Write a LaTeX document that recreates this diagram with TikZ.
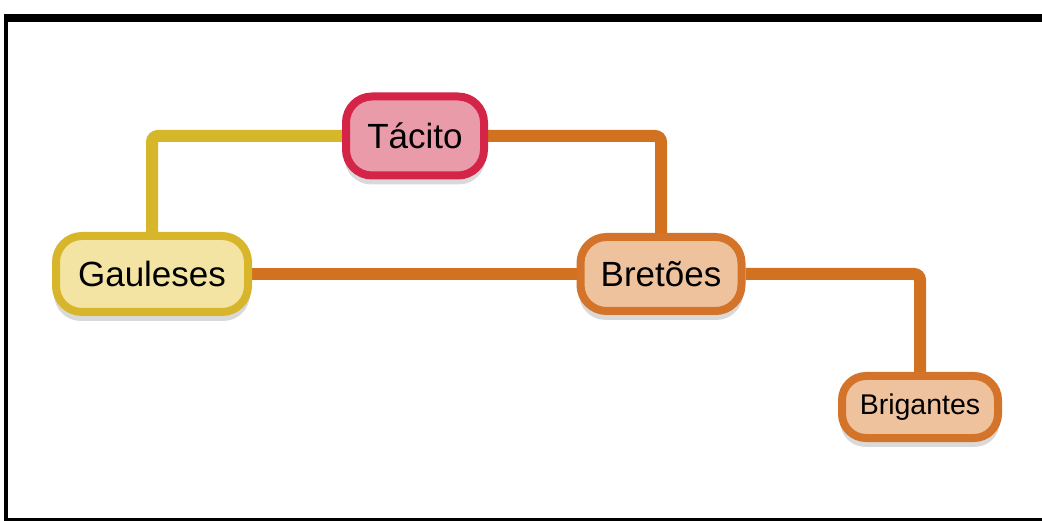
\documentclass[tikz,border=0pt]{standalone}
\usepackage{fontspec}
\setmainfont{Liberation Sans}
\usetikzlibrary{shadows,backgrounds}
\definecolor{tacitoline}{HTML}{D42447}
\definecolor{tacitofill}{HTML}{E99BA9}
\definecolor{gaulline}{HTML}{D8B62C}
\definecolor{gaulfill}{HTML}{F3E4A3}
\definecolor{bretline}{HTML}{D4742A}
\definecolor{bretfill}{HTML}{EFC29E}
\definecolor{linkorange}{HTML}{D2711F}
\definecolor{linkyellow}{HTML}{D6B72A}
\tikzset{
  topic/.style={draw, line width=8pt, rounded corners=26pt, inner sep=0pt,
    font=\fontsize{35}{40}\selectfont,
    drop shadow={shadow xshift=0pt, shadow yshift=-8pt, shadow scale=1.02, opacity=0.15, fill=black}},
  link/.style={line width=12pt, rounded corners=6pt},
}
\begin{document}
\begin{tikzpicture}[x=1pt,y=-1pt]
  \useasboundingbox (0,0) rectangle (1042,521);

  \node[topic, draw=tacitoline, fill=tacitofill, minimum width=138pt, minimum height=79pt] (tac) at (415,136) {Tácito};
  \node[topic, draw=gaulline, fill=gaulfill, minimum width=192pt, minimum height=76pt] (gau) at (152,274) {Gauleses};
  \node[topic, draw=bretline, fill=bretfill, minimum width=161pt, minimum height=74pt] (bre) at (661,274) {Bretões};
  \node[topic, draw=bretline, fill=bretfill, minimum width=156pt, minimum height=62pt, rounded corners=24pt,
        font=\fontsize{28.5}{34}\selectfont] (bri) at (920,407) {Brigantes};

  \begin{scope}[on background layer]
    \fill[white] (0,0) rectangle (1042,521);
    % outer frame (top, left and bottom bands)
    \fill[black] (4,14) rectangle (1042,22);
    \fill[black] (4,14) rectangle (8,521);
    \fill[black] (4,518) rectangle (1042,521);
    % connectors
    \draw[link, linkyellow] (tac.west) -| (gau.north);
    \draw[link, linkorange] (tac.east) -| (bre.north);
    \draw[link, linkorange] (gau.east) -- (bre.west);
    \draw[link, linkorange] (bre.east) -| (bri.north);
  \end{scope}
\end{tikzpicture}
\end{document}
